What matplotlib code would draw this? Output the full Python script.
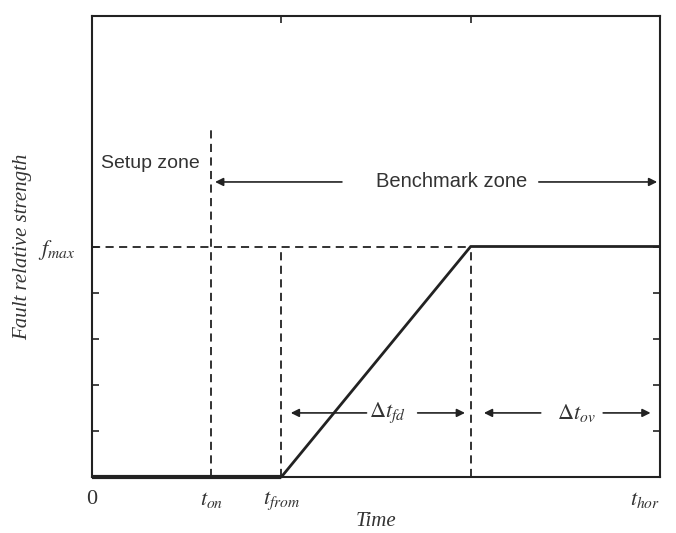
import matplotlib.pyplot as plt

plt.rcParams['mathtext.fontset'] = 'stix'

# key times and levels (arbitrary units)
t_on = 6.3
t_from = 10
t_end = 20
t_hor = 30
f_max = 5
y_top = 10

# fault strength profile
prof_t = [0, t_from, t_end, t_hor]
prof_f = [0, 0, f_max, f_max]

xtick_pos = [0, t_on, t_from, t_hor]
xtick_lab = ['0', '$t_{on}$', '$t_{from}$', '$t_{hor}$']
ytick_pos = [1, 2, 3, 4, 5]
ytick_lab = ['', '', '', '', '$f_{max}$']

dark = '#222222'
txt = '#333333'

fig = plt.figure(figsize=(6.76, 5.33), dpi=100)
ax = fig.add_axes([92 / 676, 56 / 533, 568 / 676, 461 / 533])

dash = (0, (4.5, 3))
# dashed guides
ax.plot([t_on, t_on], [0, 7.55], ls=dash, color=dark, lw=1.3)
ax.plot([t_from, t_from], [0, f_max], ls=dash, color=dark, lw=1.3)
ax.plot([t_end, t_end], [0, f_max], ls=dash, color=dark, lw=1.3)
ax.plot([0, t_end], [f_max, f_max], ls=dash, color=dark, lw=1.3)

# profile
ax.plot(prof_t, prof_f, color=dark, lw=2.0, solid_capstyle='butt', clip_on=False)
ax.plot([0, t_from], [0, 0], color=dark, lw=3.0, solid_capstyle='butt', clip_on=False)

arr = dict(arrowstyle='-|>', color=dark, lw=1.2, mutation_scale=12, shrinkA=0, shrinkB=0)

# zone labels
ax.text(0.45, 6.8, 'Setup zone', fontsize=14, color=txt, family='Liberation Sans',
        ha='left', va='center')
ax.text(19.0, 6.4, 'Benchmark zone', fontsize=14.5, color=txt, family='Liberation Sans',
        ha='center', va='center')
ax.annotate('', xy=(t_on + 0.2, 6.4), xytext=(13.2, 6.4), arrowprops=arr)
ax.annotate('', xy=(t_hor - 0.15, 6.4), xytext=(23.6, 6.4), arrowprops=arr)

# interval labels
ax.text(15.6, 1.39, r'$\Delta t_{fd}$', fontsize=16, color=txt, ha='center', va='center')
ax.annotate('', xy=(t_from + 0.5, 1.39), xytext=(14.5, 1.39), arrowprops=arr)
ax.annotate('', xy=(t_end - 0.3, 1.39), xytext=(17.2, 1.39), arrowprops=arr)

ax.text(25.6, 1.39, r'$\Delta t_{ov}$', fontsize=16, color=txt, ha='center', va='center')
ax.annotate('', xy=(t_end + 0.7, 1.39), xytext=(23.7, 1.39), arrowprops=arr)
ax.annotate('', xy=(t_hor - 0.5, 1.39), xytext=(27.0, 1.39), arrowprops=arr)

ax.set_xlim(0, t_hor)
ax.set_ylim(0, y_top)

ax.set_xticks(xtick_pos, xtick_lab, fontsize=16, color=txt)
ax.set_yticks(ytick_pos, ytick_lab, fontsize=16, color=txt)
ax.tick_params(axis='x', length=0, pad=9)
ax.tick_params(axis='y', direction='in', length=5, width=1.2, color=dark,
               left=True, right=True, pad=12)
ax.get_xticklabels()[-1].set_horizontalalignment('right')
ax.get_xticklabels()[0].set_fontfamily('Liberation Serif')

top = ax.secondary_xaxis('top')
top.set_xticks([t_from, t_end], ['', ''])
top.tick_params(direction='in', length=5, width=1.2, color=dark)

for s in ax.spines.values():
    s.set_color(dark)
    s.set_linewidth(1.5)
top.spines['top'].set_visible(False)

ax.set_xlabel('Time', fontsize=15, color=txt, family='Liberation Serif',
              style='italic', labelpad=0)
ax.set_ylabel('Fault relative strength', fontsize=15, color=txt,
              family='Liberation Serif', style='italic')
ax.yaxis.set_label_coords(-60 / 568, 0.5)

fig.savefig('out.png', dpi=100)
